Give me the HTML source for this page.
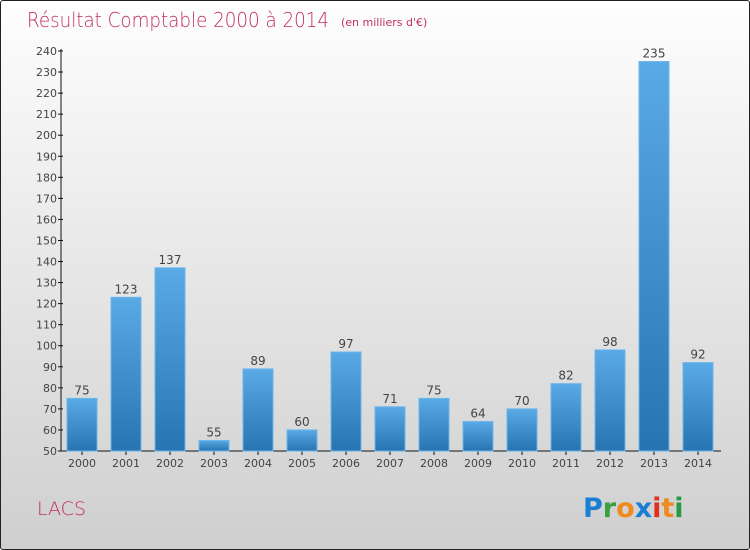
<!DOCTYPE html>
<html><head><meta charset="utf-8"><style>
body{margin:0}
#wrap{position:relative;width:748px;height:548px;border:1px solid #222;border-radius:3px;background:linear-gradient(#fefefe,#cfcfcf);font-family:"DejaVu Sans","Liberation Sans",sans-serif;overflow:hidden}
</style></head><body>
<div id="wrap">
<svg id="chart" width="748" height="548">
<defs><linearGradient id="bg" x1="0" y1="0" x2="0" y2="1"><stop offset="0" stop-color="#5aaae6"/><stop offset="1" stop-color="#2774b0"/></linearGradient></defs>
<text x="26" y="26" font-size="20" fill="#c0305e" font-family="DejaVu Sans" font-weight="200" textLength="302" lengthAdjust="spacingAndGlyphs">Résultat Comptable 2000 à 2014</text>
<text x="340" y="25" font-size="11" fill="#c0305e">(en milliers d'€)</text>
<text x="36" y="514" font-size="19" fill="#c0305e" font-weight="200">LACS</text>
<g font-size="27" font-weight="bold" font-family="DejaVu Sans">
<text x="582" y="516"><tspan fill="#1a7fd4">P</tspan><tspan fill="#3aa040">r</tspan><tspan fill="#f08a1c">o</tspan><tspan fill="#1a7fd4">x</tspan><tspan fill="#e03020">i</tspan><tspan fill="#f08a1c">t</tspan><tspan fill="#2a9a40">i</tspan></text></g>
<g id="axes"></g><g id="bars"></g>
</svg>
</div>
<script>
const categories=["2000","2001","2002","2003","2004","2005","2006","2007","2008","2009","2010","2011","2012","2013","2014"];
const values=[75,123,137,55,89,60,97,71,75,64,70,82,98,235,92];
const yTicks=[50,60,70,80,90,100,110,120,130,140,150,160,170,180,190,200,210,220,230,240];
const NS="http://www.w3.org/2000/svg";
const y=v=>450-(v-50)*400/190;
const x=i=>81+i*44;
function mk(t,a,p){const e=document.createElementNS(NS,t);for(const k in a)e.setAttribute(k,a[k]);p.appendChild(e);return e;}
const ax=document.getElementById('axes'),bars=document.getElementById('bars');
const yl=mk('line',{x1:60,y1:48,x2:60,y2:450,stroke:'#111'},ax);


const xl=mk('line',{x1:60,y1:450,x2:720,y2:450,stroke:'#111'},ax);


yTicks.forEach(v=>{
 mk('line',{x1:57,x2:62,y1:y(v),y2:y(v),stroke:'#111'},ax);
 const t=mk('text',{x:56,y:y(v)+4,'text-anchor':'end','font-size':11,fill:'#444'},ax);t.textContent=v;
 
 
});
categories.forEach((c,i)=>{
 mk('line',{x1:x(i),x2:x(i),y1:450,y2:454,stroke:'#111'},ax);
 const t=mk('text',{x:x(i),y:466,'text-anchor':'middle','font-size':11,fill:'#444'},ax);t.textContent=c;
 
 
 const r=mk('rect',{x:x(i)-15,y:y(values[i]),width:30,height:450-y(values[i]),fill:'url(#bg)',stroke:'#6ab6ee','stroke-width':1},bars);
 
 
 const l=mk('text',{x:x(i),y:y(values[i])-4,'text-anchor':'middle','font-size':12,fill:'#444'},bars);l.textContent=values[i];
 
 
});
</script>
</body></html>
